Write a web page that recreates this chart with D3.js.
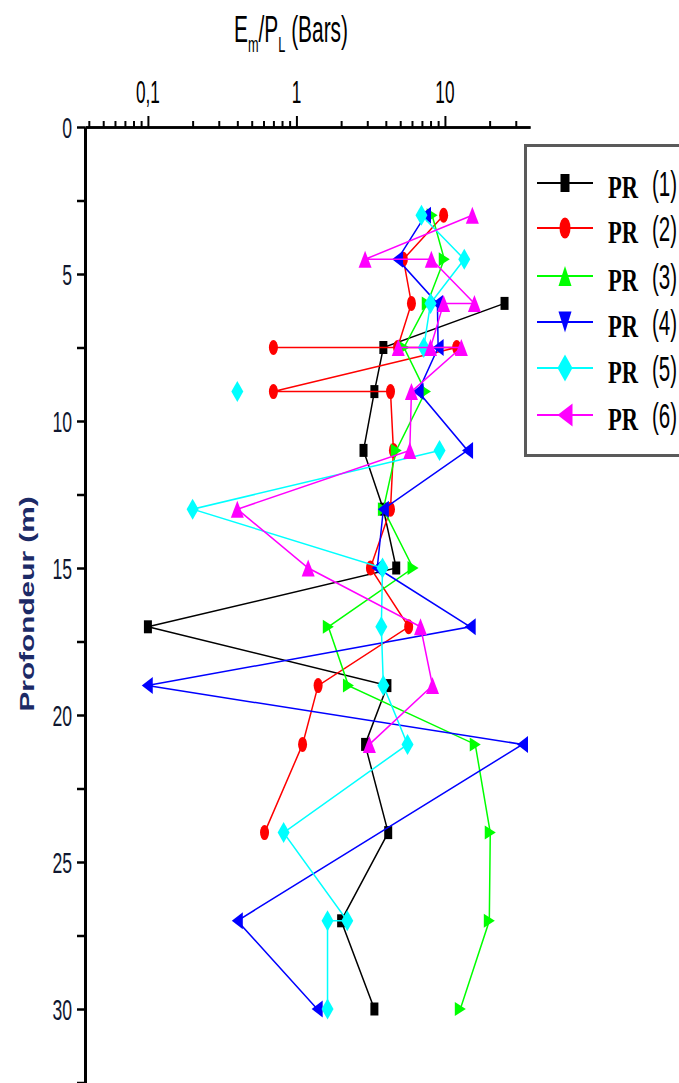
<!DOCTYPE html>
<html><head><meta charset="utf-8">
<script src="https://cdn.jsdelivr.net/npm/d3@7"></script>
<style>html,body{margin:0;padding:0;background:#fff;}svg{display:block;}</style>
</head><body>
<svg id="chart" width="679" height="1083"></svg>
<script>
// ---------- data ----------
const xTickValues = [0.1, 1, 10];
const xTickLabels = ["0,1", "1", "10"];
const depthTickLabels = [0, 5, 10, 15, 20, 25, 30];
const depthMinorTicks = [0, 2.5, 5, 7.5, 10, 12.5, 15, 17.5, 20, 22.5, 25, 27.5, 30, 32.5];
const seriesNames = ["(1)", "(2)", "(3)", "(4)", "(5)", "(6)"];
const seriesColors = ["#000000", "#ff0000", "#00ff00", "#0000ff", "#00ffff", "#ff00ff"];

const pr1Depth = [6, 7.5, 9, 11, 13, 15, 17, 19, 21, 24, 27, 30];
const pr1Value = [25.2, 3.85, 3.35, 2.83, 3.85, 4.7, 0.1, 4.1, 2.9, 4.15, 2.0, 3.35];
const pr2Depth = [3, 4.5, 6, 7.5, 7.5, 7.5, 9, 9, 11, 13, 15, 17, 19, 21, 24];
const pr2Value = [9.8, 5.25, 5.95, 4.8, 0.7, 12.0, 0.7, 4.3, 4.5, 4.3, 3.15, 5.7, 1.4, 1.1, 0.61];
const pr3Depth = [3, 4.5, 6, 7.5, 9, 11, 13, 15, 17, 19, 21, 24, 27, 30];
const pr3Value = [8.2, 9.9, 7.6, 5.3, 7.4, 4.7, 3.85, 6.1, 1.64, 2.24, 16.0, 20.2, 19.9, 12.7];
const pr4Depth = [3, 4.5, 6, 7.5, 9, 11, 13, 15, 17, 19, 21, 27, 30];
const pr4Value = [7.4, 4.8, 8.9, 9.0, 6.6, 14.2, 3.85, 3.5, 14.8, 0.099, 33.3, 0.4, 1.38];
const pr5Depth = [3, 4.5, 6, 7.5, null, 9, null, 11, 13, 15, 17, 19, 21, 24, 27, 27, 30];
const pr5Value = [6.95, 13.5, 8.0, 7.2, null, 0.4, null, 9.2, 0.2, 3.8, 3.73, 3.85, 5.6, 0.82, 2.2, 1.62, 1.62];
const pr6Depth = [3, 4.5, 4.5, 6, 6, 7.5, 7.5, 7.5, 9, 11, 13, 15, 17, 19, 21];
const pr6Value = [15.3, 2.9, 8.1, 15.8, 9.8, 8.0, 4.85, 12.9, 5.95, 5.8, 0.4, 1.2, 6.85, 8.25, 3.1];

const seriesDepths = [pr1Depth, pr2Depth, pr3Depth, pr4Depth, pr5Depth, pr6Depth];
const seriesValues = [pr1Value, pr2Value, pr3Value, pr4Value, pr5Value, pr6Value];

// ---------- layout ----------
const svg = d3.select("#chart");
const plotLeft = 85, plotRight = 530, plotTop = 127, plotBottom = 1082.5;
const x = d3.scaleLog().domain([0.0377, 37.4]).range([plotLeft, plotRight]);
const y = d3.scaleLinear().domain([0, 32.5]).range([plotTop, plotBottom]);

const SANS = "'Liberation Sans', Arial, sans-serif";
const SERIF = "'Liberation Serif', 'Times New Roman', serif";

function sText(g, px, py, txt, size, sx, sy, anchor, opts = {}) {
  return g.append("text")
    .attr("transform", `translate(${px},${py}) scale(${sx},${sy})`)
    .attr("font-family", opts.family || SANS)
    .attr("font-weight", opts.weight || "normal")
    .attr("font-size", size)
    .attr("fill", opts.fill || "#000")
    .attr("text-anchor", anchor)
    .text(txt);
}

// ---------- axes ----------
const minorX = [];
[0.01, 0.1, 1, 10].forEach(dec => { for (let k = 1; k <= 9; k++) { const v = dec * k; if (v >= 0.0377 && v <= 37.4) minorX.push(v); } });

const axTop = svg.append("g").attr("transform", `translate(0,${plotTop})`);
axTop.call(d3.axisTop(x).tickValues(minorX.filter(v => !xTickValues.includes(v))).tickSize(6).tickSizeOuter(0).tickFormat(""));
axTop.append("g").call(d3.axisTop(x).tickValues(xTickValues).tickSize(11).tickSizeOuter(0).tickFormat(""));
axTop.selectAll("path.domain").attr("stroke", "#000").attr("stroke-width", 2.5);
axTop.selectAll(".tick line").attr("stroke", "#000").attr("stroke-width", 2);

const axLeft = svg.append("g").attr("transform", `translate(${plotLeft},0)`);
axLeft.call(d3.axisLeft(y).tickValues(depthMinorTicks).tickSize(8).tickSizeOuter(0).tickFormat(""));
axLeft.select("path.domain").attr("stroke", "#000").attr("stroke-width", 3);
axLeft.selectAll(".tick line").attr("stroke", "#000").attr("stroke-width", 2.5);

// tick labels
const labG = svg.append("g");
xTickValues.forEach((v, i) => sText(labG, x(v), 103, xTickLabels[i], 21, 0.82, 1.5, "middle"));
depthTickLabels.forEach(d => sText(labG, 72, y(d) + 10.5, String(d), 21.5, 0.82, 1.38, "end", { fill: "#101830" }));

// axis titles
const title = svg.append("text")
  .attr("transform", `translate(291,42) scale(0.82,1.42)`)
  .attr("font-family", SANS).attr("font-size", 25.5).attr("text-anchor", "middle").attr("fill", "#000");
title.append("tspan").text("E");
title.append("tspan").attr("font-size", 15.5).attr("dy", 7).text("m");
title.append("tspan").attr("dy", -7).text("/P");
title.append("tspan").attr("font-size", 15.5).attr("dy", 7).text("L");
title.append("tspan").attr("dy", -7).text(" (Bars)");

svg.append("text")
  .attr("transform", `translate(34,604) rotate(-90) scale(1.42,1)`)
  .attr("font-family", SANS).attr("font-weight", "bold").attr("font-size", 21)
  .attr("fill", "#1c2a66").attr("text-anchor", "middle").text("Profondeur (m)");

// ---------- markers ----------
function shapePath(shape, w, h) {
  const a = w / 2, b = h / 2;
  switch (shape) {
    case "square": return `M${-a},${-b}H${a}V${b}H${-a}Z`;
    case "ellipse": return `M${-a},0A${a},${b} 0 1,0 ${a},0A${a},${b} 0 1,0 ${-a},0Z`;
    case "up": return `M0,${-b}L${a},${b}L${-a},${b}Z`;
    case "down": return `M0,${b}L${a},${-b}L${-a},${-b}Z`;
    case "right": return `M${a},0L${-a},${b}L${-a},${-b}Z`;
    case "left": return `M${-a},0L${a},${-b}L${a},${b}Z`;
    case "diamond": return `M0,${-b}L${a},0L0,${b}L${-a},0Z`;
  }
}
const plotShapes = [["square", 8, 13], ["ellipse", 9, 15], ["right", 11, 14], ["left", 11, 17], ["diamond", 12, 21], ["up", 13, 17]];
const legendShapes = [["square", 9, 18], ["ellipse", 11, 21], ["up", 13, 20], ["down", 13, 21], ["diamond", 15, 27], ["left", 15, 23]];

// ---------- series ----------
const line = d3.line().defined(d => d.v != null).x(d => x(d.v)).y(d => y(d.d));
const plotG = svg.append("g");
seriesDepths.forEach((depths, i) => {
  const pts = depths.map((d, j) => ({ d: d, v: seriesValues[i][j] }));
  const g = plotG.append("g");
  g.append("path").datum(pts).attr("d", line).attr("fill", "none")
    .attr("stroke", seriesColors[i]).attr("stroke-width", 1.5);
  const [shp, w, h] = plotShapes[i];
  g.selectAll("path.mk").data(pts.filter(p => p.v != null)).join("path").attr("class", "mk")
    .attr("transform", p => `translate(${x(p.v)},${y(p.d)})`)
    .attr("d", shapePath(shp, w, h)).attr("fill", seriesColors[i]);
});

// ---------- legend ----------
const leg = svg.append("g");
leg.append("rect").attr("x", 525.5).attr("y", 145.5).attr("width", 170).attr("height", 310)
  .attr("fill", "#fff").attr("stroke", "#5a5a5a").attr("stroke-width", 3);
const legendRows = [183, 228, 276, 322, 368, 415];
seriesNames.forEach((nm, i) => {
  const ly = legendRows[i];
  leg.append("line").attr("x1", 537).attr("x2", 593).attr("y1", ly).attr("y2", ly)
    .attr("stroke", seriesColors[i]).attr("stroke-width", 2);
  const [shp, w, h] = legendShapes[i];
  leg.append("path").attr("transform", `translate(565,${ly})`).attr("d", shapePath(shp, w, h)).attr("fill", seriesColors[i]);
  sText(leg, 608, ly + 15, "PR", 22.5, 1, 1.45, "start", { family: SERIF, weight: "bold" });
  sText(leg, 652, ly + 13, nm, 25, 0.82, 1.38, "start");
});
</script>
</body></html>
